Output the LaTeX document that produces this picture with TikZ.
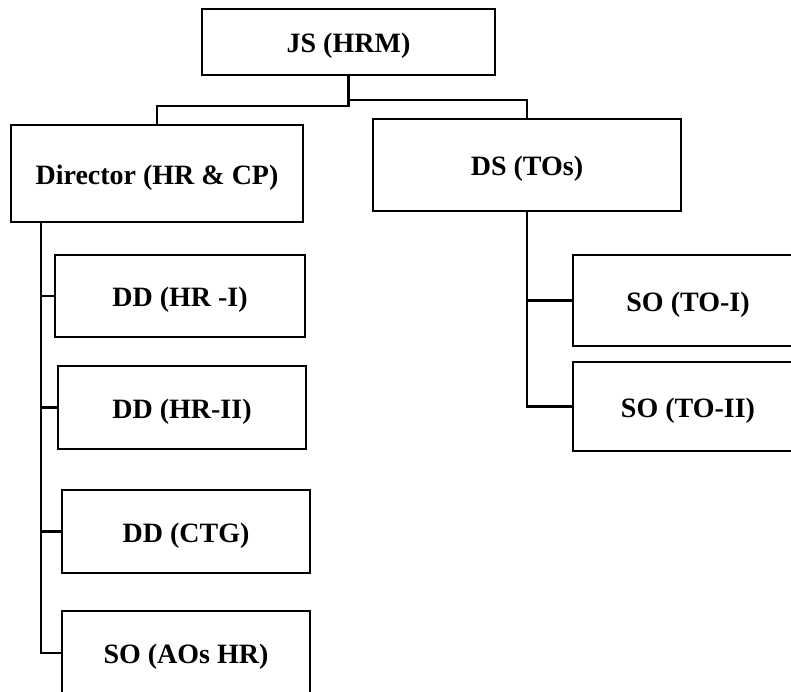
\documentclass[tikz,border=0pt]{standalone}
\usepackage{fontspec}
\setmainfont{Liberation Serif}
\begin{document}
\begin{tikzpicture}[x=1pt,y=-1pt,
  box/.style={draw=black,line width=2.8pt,fill=white,rectangle,inner sep=0pt,
    text height=21.5pt,text depth=0pt,
    font=\bfseries\fontsize{28}{32}\selectfont},
  link/.style={draw=black,line width=2.8pt}]
\useasboundingbox (0,0) rectangle (791,692);
\clip (0,0) rectangle (791,692);
% nodes
\node[box,minimum width=293pt,minimum height=66pt] (js) at (348.5,42) {JS (HRM)};
\node[box,minimum width=292pt,minimum height=97pt] (dir) at (157,173.5) {Director (HR \& CP)};
\node[box,minimum width=308pt,minimum height=92pt] (ds) at (527,165) {DS (TOs)};
\node[box,minimum width=250pt,minimum height=82pt] (dd1) at (180,296) {DD (HR -I)};
\node[box,minimum width=248pt,minimum height=83pt] (dd2) at (182,407.5) {DD (HR-II)};
\node[box,minimum width=248pt,minimum height=83pt] (dd3) at (186,531.5) {DD (CTG)};
\node[box,minimum width=248pt,minimum height=84pt] (soaos) at (186,653) {SO (AOs HR)};
\node[box,minimum width=230pt,minimum height=91pt] (to1) at (688,300.5) {SO (TO-I)};
\node[box,minimum width=230pt,minimum height=89pt] (to2) at (688,406.5) {SO (TO-II)};
% connectors
\coordinate (jl) at (348.5,106);
\coordinate (jr) at (348.5,100);
\coordinate (ltop) at (41,222);
\draw[link] (js.south) -- (jl) -| (dir.north);
\draw[link] (jr) -| (ds.north);
\draw[link] (ltop) |- (soaos.west);
\draw[link] (dd1.west -| ltop) -- (dd1.west);
\draw[link] (dd2.west -| ltop) -- (dd2.west);
\draw[link] (dd3.west -| ltop) -- (dd3.west);
\draw[link] (ds.south) |- (to2.west);
\draw[link] (to1.west -| ds.south) -- (to1.west);
\end{tikzpicture}
\end{document}
